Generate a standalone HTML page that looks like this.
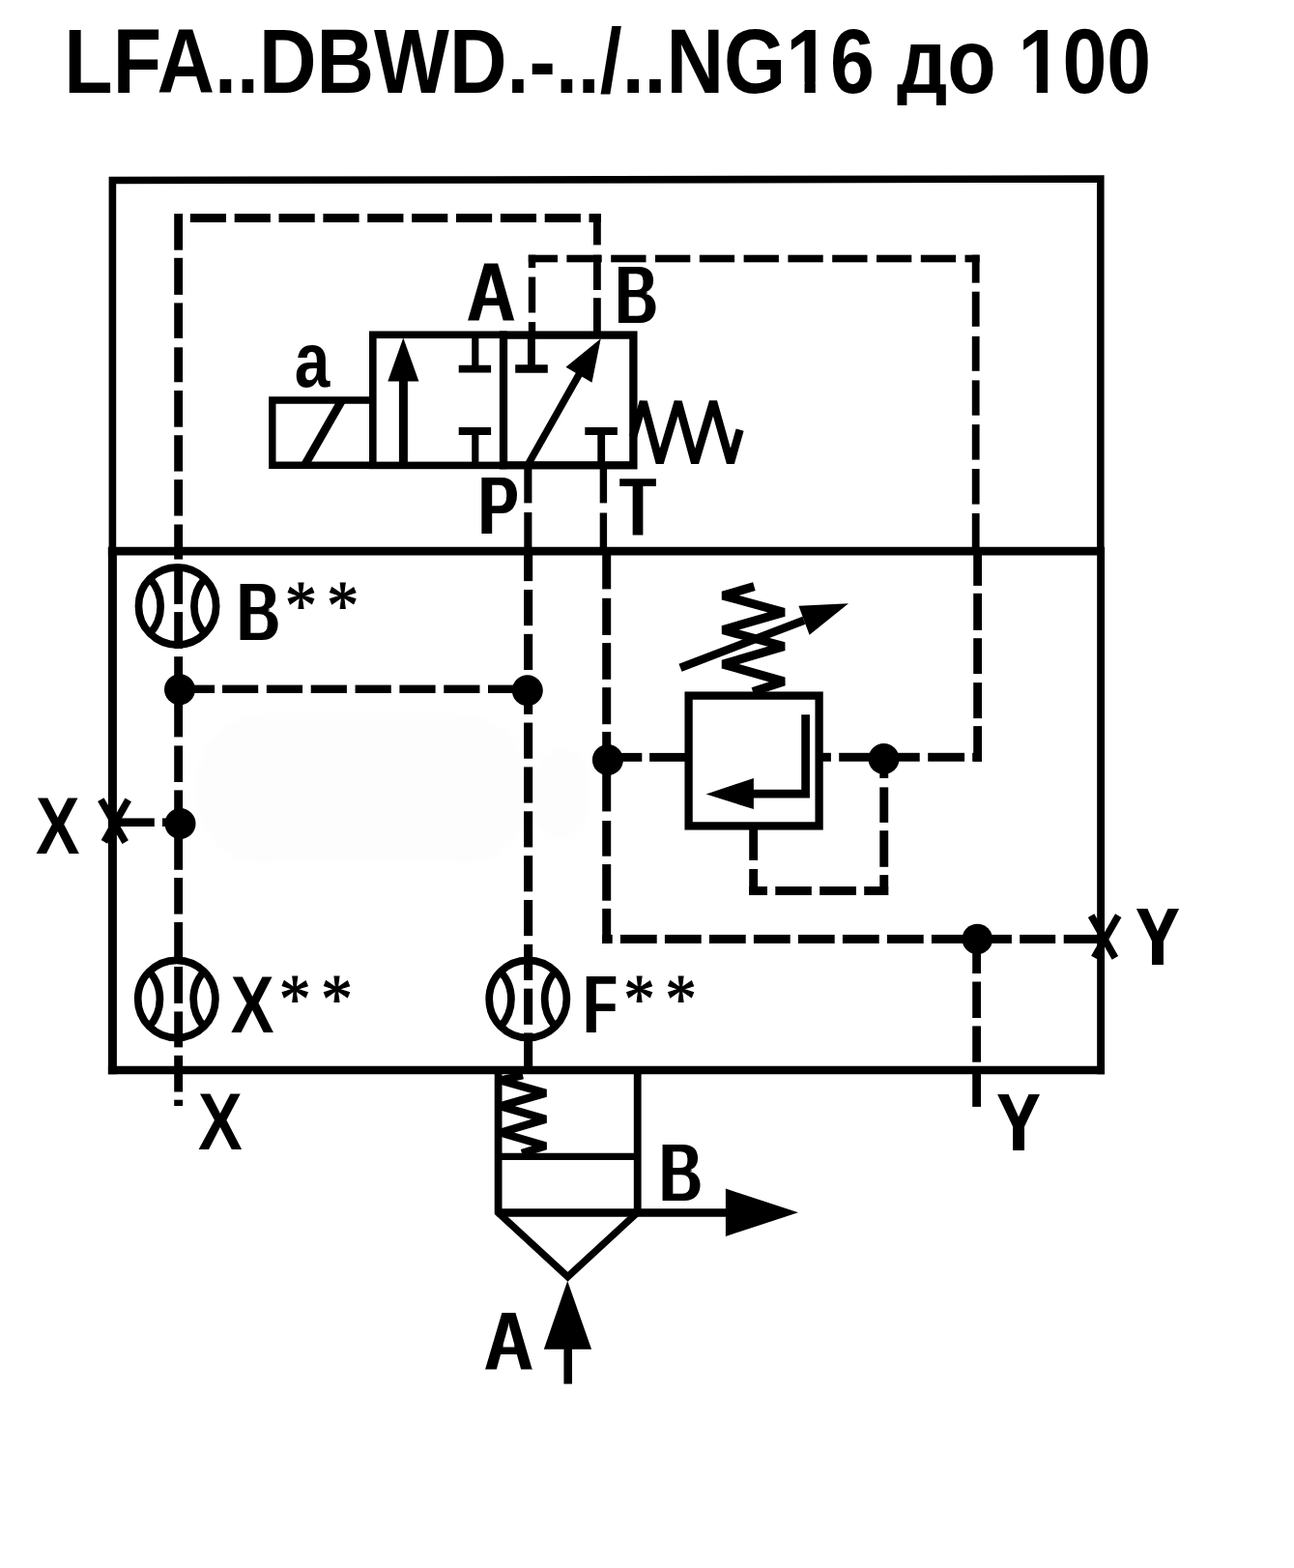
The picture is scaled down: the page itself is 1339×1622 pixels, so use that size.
<!DOCTYPE html>
<html lang="ru">
<head>
<meta charset="utf-8">
<title>LFA..DBWD.-../..NG16 до 100</title>
<style>
html,body{margin:0;padding:0;background:#fff;}
body{width:1339px;height:1622px;overflow:hidden;}
svg{display:block;}
.t{font-family:"Liberation Sans",sans-serif;font-weight:bold;fill:#000;}
.s{font-family:"Liberation Serif",serif;font-weight:normal;fill:#000;stroke:#000;stroke-width:1.2px;}
.c{filter:url(#cond);}
.l{fill:none;stroke:#000;stroke-linecap:butt;}
.f{fill:#000;stroke:none;}
</style>
</head>
<body>
<svg width="1339" height="1622" viewBox="0 0 1339 1622">
<defs><filter id="soft" x="-10%" y="-10%" width="120%" height="120%"><feGaussianBlur stdDeviation="5"/></filter><filter id="cond" x="-20%" y="-20%" width="140%" height="140%"><feMorphology operator="dilate" radius="1 0" result="d"/><feMorphology in="d" operator="erode" radius="0 1"/></filter></defs>
<rect width="1339" height="1622" fill="#fff"/>
<text class="t" id="title" font-size="94.5" transform="translate(66.3 95.5) scale(0.8731 1)">LFA..DBWD.-../..NG16 до 100</text>
<rect x="816.95" y="85" width="15.56" height="12" fill="#fff"/>
<rect x="843.78" y="85" width="14.51" height="12" fill="#fff"/>
<rect x="1057.19" y="85" width="15.56" height="12" fill="#fff"/>
<rect x="1084.05" y="85" width="14.51" height="12" fill="#fff"/>
<g filter="url(#soft)"><rect x="205" y="741" width="340" height="152" rx="64" fill="#fdfdfd"/><rect x="553" y="775" width="54" height="94" rx="27" fill="#fdfdfd"/></g>
<rect x="925" y="108.9" width="57" height="8" fill="#fff"/>
<g class="l">
<path d="M116.4,570 V186.5 L1138.8,185.1 V570" stroke-width="7.6"/>
<line x1="116.4" y1="566" x2="116.4" y2="1111.2" stroke-width="9" />
<line x1="1139.1" y1="566" x2="1139.1" y2="1111.2" stroke-width="7.9" />
<line x1="111.9" y1="1107" x2="1143.05" y2="1107" stroke-width="8.5" />
<line x1="111.9" y1="570.15" x2="1143.05" y2="570.15" stroke-width="8.7" />
</g>
<g class="f">
<rect x="180.2" y="221.1" width="8.9" height="37.6"/>
<rect x="180.2" y="266.8" width="8.9" height="38.1"/>
<rect x="180.2" y="313.4" width="8.9" height="36.5"/>
<rect x="180.2" y="359.3" width="8.9" height="36"/>
<rect x="180.2" y="404" width="8.9" height="37.7"/>
<rect x="180.2" y="450.2" width="8.9" height="37.4"/>
<rect x="180.2" y="496.1" width="8.9" height="37.5"/>
<rect x="180.2" y="542.5" width="8.9" height="36.1"/>
<rect x="180.2" y="587" width="8.9" height="37.9"/>
<rect x="180.2" y="633.1" width="8.9" height="37.8"/>
<rect x="180.2" y="679.2" width="8.9" height="36.8"/>
<rect x="180.2" y="725" width="8.9" height="37.4"/>
<rect x="180.2" y="771.4" width="8.9" height="37.6"/>
<rect x="180.2" y="817.4" width="8.9" height="37.6"/>
<rect x="180.2" y="863" width="8.9" height="36.8"/>
<rect x="180.2" y="908" width="8.9" height="37.6"/>
<rect x="180.2" y="953.9" width="8.9" height="37.6"/>
<rect x="180.2" y="1000" width="8.9" height="37.9"/>
<rect x="180.2" y="1046.4" width="8.9" height="37"/>
<rect x="180.2" y="1091.8" width="8.9" height="37.7"/>
<rect x="180.2" y="1137.7" width="8.9" height="6.3"/>
<rect x="196.8" y="221.1" width="37.2" height="8.9"/>
<rect x="242.66" y="221.1" width="37.2" height="8.9"/>
<rect x="288.52" y="221.1" width="37.2" height="8.9"/>
<rect x="334.38" y="221.1" width="37.2" height="8.9"/>
<rect x="380.24" y="221.1" width="37.2" height="8.9"/>
<rect x="426.1" y="221.1" width="37.2" height="8.9"/>
<rect x="471.96" y="221.1" width="37.2" height="8.9"/>
<rect x="517.82" y="221.1" width="37.2" height="8.9"/>
<rect x="563.68" y="221.1" width="37.2" height="8.9"/>
<rect x="609.5" y="221.1" width="12.3" height="8.9"/>
<rect x="614" y="221.1" width="7.8" height="32.3"/>
<rect x="614" y="263.7" width="7.8" height="36.3"/>
<rect x="614" y="308.2" width="7.8" height="34.8"/>
<rect x="546.8" y="263.7" width="7.4" height="13.4"/>
<rect x="546.8" y="286.5" width="7.4" height="37"/>
<rect x="546.8" y="333.1" width="7.4" height="9.9"/>
<rect x="546.8" y="263.7" width="30.2" height="7.6"/>
<rect x="586.4" y="263.7" width="36.3" height="7.6"/>
<rect x="632.2" y="263.7" width="36.3" height="7.6"/>
<rect x="678" y="263.7" width="36.3" height="7.6"/>
<rect x="723.8" y="263.7" width="36.3" height="7.6"/>
<rect x="769.6" y="263.7" width="36.3" height="7.6"/>
<rect x="815.4" y="263.7" width="36.3" height="7.6"/>
<rect x="861.2" y="263.7" width="36.3" height="7.6"/>
<rect x="907" y="263.7" width="36.3" height="7.6"/>
<rect x="952.8" y="263.7" width="36.3" height="7.6"/>
<rect x="998.5" y="263.7" width="15.1" height="7.6"/>
<rect x="1005.8" y="263.7" width="7.8" height="28.9"/>
<rect x="1005.8" y="301.7" width="7.8" height="36.1"/>
<rect x="1005.8" y="347.9" width="7.8" height="35.9"/>
<rect x="1005.8" y="393.4" width="7.8" height="36.3"/>
<rect x="1005.8" y="439.1" width="7.8" height="36.5"/>
<rect x="1005.8" y="485" width="7.8" height="36.6"/>
<rect x="1005.8" y="531" width="7.8" height="36"/>
<rect x="1007.2" y="567" width="8.8" height="38.9"/>
<rect x="1007.2" y="613.8" width="8.8" height="38.1"/>
<rect x="1007.2" y="660.2" width="8.8" height="36.9"/>
<rect x="1007.2" y="706.1" width="8.8" height="37"/>
<rect x="1007.2" y="751.1" width="8.8" height="36.6"/>
<rect x="851" y="778.8" width="8.9" height="8.9"/>
<rect x="868.2" y="778.8" width="36.8" height="8.9"/>
<rect x="925" y="778.8" width="26.7" height="8.9"/>
<rect x="960.2" y="778.8" width="37.9" height="8.9"/>
<rect x="1006.2" y="778.8" width="9.8" height="8.9"/>
<rect x="542.3" y="485" width="8.1" height="35.4"/>
<rect x="542.3" y="530" width="8.1" height="37"/>
<rect x="542.1" y="567" width="9.1" height="34.1"/>
<rect x="542.1" y="610" width="9.1" height="37.2"/>
<rect x="542.1" y="655.85" width="9.1" height="37.2"/>
<rect x="542.1" y="701.7" width="9.1" height="37.2"/>
<rect x="542.1" y="747.55" width="9.1" height="37.2"/>
<rect x="542.1" y="793.4" width="9.1" height="37.2"/>
<rect x="542.1" y="839.25" width="9.1" height="37.2"/>
<rect x="542.1" y="885.1" width="9.1" height="37.2"/>
<rect x="542.1" y="930.95" width="9.1" height="37.2"/>
<rect x="542.1" y="976.8" width="9.1" height="37.2"/>
<rect x="542.1" y="1022.65" width="9.1" height="37.2"/>
<rect x="542.1" y="1068.4" width="9.1" height="38.6"/>
<rect x="620.7" y="485" width="7.4" height="35.4"/>
<rect x="620.7" y="530.5" width="7.4" height="36.5"/>
<rect x="623.2" y="567" width="9" height="42.4"/>
<rect x="623.2" y="618.8" width="9" height="38.1"/>
<rect x="623.2" y="665.1" width="9" height="37.7"/>
<rect x="623.2" y="711.1" width="9" height="38.1"/>
<rect x="623.2" y="757" width="9" height="18"/>
<rect x="623.2" y="795" width="9" height="44.4"/>
<rect x="623.2" y="849" width="9" height="36.7"/>
<rect x="623.2" y="894.05" width="9" height="37.65"/>
<rect x="623.2" y="939.9" width="9" height="35.9"/>
<rect x="200" y="708.6" width="22.1" height="8.4"/>
<rect x="230" y="708.6" width="37.2" height="8.4"/>
<rect x="275.85" y="708.6" width="37.2" height="8.4"/>
<rect x="321.7" y="708.6" width="37.2" height="8.4"/>
<rect x="367.55" y="708.6" width="37.2" height="8.4"/>
<rect x="413.4" y="708.6" width="37.2" height="8.4"/>
<rect x="459.25" y="708.6" width="37.2" height="8.4"/>
<rect x="505" y="708.6" width="30" height="8.4"/>
<rect x="640" y="778.9" width="24.3" height="8.9"/>
<rect x="672.1" y="778.9" width="36.9" height="8.9"/>
<rect x="775.2" y="858" width="8.9" height="31.9"/>
<rect x="775.2" y="899" width="8.9" height="27"/>
<rect x="775.2" y="917" width="18.8" height="9"/>
<rect x="802.3" y="917" width="37.5" height="9"/>
<rect x="848.2" y="917" width="37.8" height="9"/>
<rect x="894.2" y="917" width="25" height="9"/>
<rect x="910.3" y="795" width="8.9" height="10"/>
<rect x="910.3" y="814.4" width="8.9" height="36.5"/>
<rect x="910.3" y="859.2" width="8.9" height="37.6"/>
<rect x="910.3" y="905.1" width="8.9" height="20.9"/>
<rect x="623.2" y="966.9" width="10.5" height="9"/>
<rect x="641.9" y="966.9" width="37.8" height="9"/>
<rect x="687.9" y="966.9" width="37.8" height="9"/>
<rect x="733.9" y="966.9" width="37.8" height="9"/>
<rect x="779.9" y="966.9" width="37.8" height="9"/>
<rect x="825.9" y="966.9" width="37.8" height="9"/>
<rect x="871.9" y="966.9" width="37.8" height="9"/>
<rect x="917.9" y="966.9" width="37.8" height="9"/>
<rect x="963.9" y="966.9" width="37.8" height="9"/>
<rect x="1009.9" y="966.9" width="37" height="9"/>
<rect x="1055.2" y="966.9" width="37" height="9"/>
<rect x="1100.7" y="966.9" width="38.3" height="9"/>
<rect x="1006.2" y="980" width="8.8" height="27"/>
<rect x="1006.2" y="1015.5" width="8.8" height="37.5"/>
<rect x="1006.2" y="1061.4" width="8.8" height="37.3"/>
<rect x="1006.2" y="1106" width="8.8" height="38.9"/>
<rect x="120" y="846.4" width="39.8" height="8.6"/>
<rect x="168" y="846.4" width="12" height="8.6"/>
</g>
<g class="l">
<path d="M385.8,414 H281.8 V481.3 H385.8" stroke-width="7.4"/>
<line x1="315.2" y1="481.3" x2="353.8" y2="414" stroke-width="8.6" />
<rect x="385.8" y="346.3" width="135.2" height="135.1" stroke-width="7.6"/>
<rect x="521" y="346.6" width="134.4" height="134.7" stroke-width="8.3"/>
<line x1="417.4" y1="481" x2="417.4" y2="392" stroke-width="9" />
<line x1="491.8" y1="346" x2="491.8" y2="381.6" stroke-width="7.2" />
<line x1="474.7" y1="381.6" x2="508.1" y2="381.6" stroke-width="7.6" />
<line x1="491.8" y1="481" x2="491.8" y2="446" stroke-width="7.2" />
<line x1="474.7" y1="446" x2="508.1" y2="446" stroke-width="7.9" />
<line x1="549.9" y1="346" x2="549.9" y2="381.4" stroke-width="7.9" />
<line x1="533.2" y1="381.4" x2="566.8" y2="381.4" stroke-width="8.5" />
<line x1="622.2" y1="481" x2="622.2" y2="446" stroke-width="7.8" />
<line x1="605.3" y1="446" x2="638.9" y2="446" stroke-width="7.9" />
<line x1="546.1" y1="481" x2="599.6" y2="386.6" stroke-width="7.5" />
<polyline points="655,452 665.8,415.5 682.7,478.9 701.7,415.5 719.1,478.9 738,415.5 755.9,478.9 765.6,444.6" stroke-width="8.3" stroke-linejoin="bevel" />
</g>
<polygon class="f" points="417.3,349.4 401.3,394.4 433.4,394.4"/>
<polygon class="f" points="621.7,350.2 585.5,379.8 612.5,395.7"/>
<g class="l">
<rect x="712.6" y="719.6" width="135" height="134.8" stroke-width="8.3"/>
<path d="M833.6,739.2 V821.2 H779" stroke-width="8.7"/>
<polyline points="780.4,606.7 748,616 811.2,633.4 748,651.6 811.2,668.7 748,687 811.2,705 779,715.5" stroke-width="9.1" stroke-linejoin="bevel" />
<line x1="704" y1="690.7" x2="832" y2="641.7" stroke-width="8.6" />
</g>
<polygon class="f" points="730.6,821.4 779.9,804.9 779.9,837.1"/>
<polygon class="f" points="878,624.3 826.4,626.8 837.6,656.8"/>
<g class="l" stroke-width="7.7">
<circle cx="183.55" cy="626.95" r="40.1"/>
<path d="M155.15,598.55 A42,42 0 0 1 155.15,655.35"/>
<path d="M211.95,598.55 A42,42 0 0 0 211.95,655.35"/>
</g>
<g class="l" stroke-width="7.7">
<circle cx="182.8" cy="1033.4" r="40.1"/>
<path d="M154.4,1005 A42,42 0 0 1 154.4,1061.8"/>
<path d="M211.2,1005 A42,42 0 0 0 211.2,1061.8"/>
</g>
<g class="l" stroke-width="7.7">
<circle cx="546.3" cy="1033.4" r="40.1"/>
<path d="M517.9,1005 A42,42 0 0 1 517.9,1061.8"/>
<path d="M574.7,1005 A42,42 0 0 0 574.7,1061.8"/>
</g>
<circle class="f" cx="186" cy="713.2" r="16"/>
<circle class="f" cx="545.8" cy="714.3" r="16"/>
<circle class="f" cx="186.5" cy="852" r="16"/>
<circle class="f" cx="628.9" cy="786" r="16"/>
<circle class="f" cx="914.5" cy="785" r="16"/>
<circle class="f" cx="1011.3" cy="971.4" r="15.7"/>
<g class="l">
<line x1="104.3" y1="827.2" x2="129.7" y2="871.05" stroke-width="7.4" />
<line x1="132.7" y1="827.3" x2="107.9" y2="870.9" stroke-width="7.4" />
<line x1="1129.1" y1="947.2" x2="1153.9" y2="990.8" stroke-width="7.4" />
<line x1="1157.2" y1="947.2" x2="1132.3" y2="990.5" stroke-width="7.4" />
</g>
<g class="l">
<line x1="515.6" y1="1107" x2="515.6" y2="1255.7" stroke-width="7.8" />
<line x1="659.7" y1="1107" x2="659.7" y2="1256" stroke-width="7.8" />
<line x1="515.6" y1="1196.3" x2="659.7" y2="1196.3" stroke-width="7.2" />
<line x1="514.6" y1="1254.5" x2="752" y2="1254.5" stroke-width="8.5" />
<polyline points="514.25,1253.2 587.5,1320.8 660.75,1253.2" stroke-width="7.3" stroke-linejoin="miter" />
<polyline points="541,1112.3 517.8,1117.5 564.7,1130.8 517.8,1144.2 564.7,1157.7 517.8,1171.6 564.7,1185.4 540,1193" stroke-width="8.2" stroke-linejoin="bevel" />
<line x1="587.7" y1="1394" x2="587.7" y2="1431.6" stroke-width="8.5" />
</g>
<polygon class="f" points="826,1254.3 750.9,1229.6 750.9,1278.9"/>
<polygon class="f" points="587.2,1325.1 562.8,1395.7 612.1,1395.7"/>
<g><text class="t" font-size="79.15" transform="translate(304.83 399.64) scale(0.8300 1)">a</text></g>
<g><text class="t c" font-size="88.1" transform="translate(482.76 332.72) scale(0.7995 1)">A</text></g>
<g><text class="t c" font-size="87.13" transform="translate(636.92 335.17) scale(0.6883 1)">B</text></g>
<g><text class="t c" font-size="87.27" transform="translate(495.13 553.07) scale(0.7031 1)">P</text></g>
<g><text class="t c" font-size="86.88" transform="translate(641.4 553.77) scale(0.6981 1)">T</text></g>
<g><text class="t c" font-size="87.91" transform="translate(245.45 663.03) scale(0.6924 1)">B</text><text class="s" font-size="72.55" transform="translate(295 650.46) scale(0.9051 1)">*</text><text class="s" font-size="72.55" transform="translate(338.3 650.46) scale(0.9051 1)">*</text></g>
<g><text class="t" font-size="84.34" transform="translate(37.03 883) scale(0.8080 1)">X</text></g>
<g><text class="t" font-size="84.1" transform="translate(238.73 1067.85) scale(0.7981 1)">X</text><text class="s" font-size="71.52" transform="translate(288.99 1056.57) scale(0.9056 1)">*</text><text class="s" font-size="71.52" transform="translate(332.19 1056.57) scale(0.9056 1)">*</text></g>
<g><text class="t c" font-size="87.24" transform="translate(603.97 1068.61) scale(0.6444 1)">F</text><text class="s" font-size="71.51" transform="translate(645.54 1056.73) scale(0.8979 1)">*</text><text class="s" font-size="71.51" transform="translate(688.54 1056.73) scale(0.8979 1)">*</text></g>
<g><text class="t c" font-size="86.85" transform="translate(1174.85 999.17) scale(0.8002 1)">Y</text></g>
<g><text class="t" font-size="84.07" transform="translate(204.94 1188.8) scale(0.8152 1)">X</text></g>
<g><text class="t c" font-size="86.68" transform="translate(1030.94 1190.95) scale(0.7966 1)">Y</text></g>
<g><text class="t c" font-size="86.39" transform="translate(682.6 1242.5) scale(0.7028 1)">B</text></g>
<g><text class="t c" font-size="87.75" transform="translate(500.67 1416.9) scale(0.8114 1)">A</text></g>
</svg>
</body>
</html>
